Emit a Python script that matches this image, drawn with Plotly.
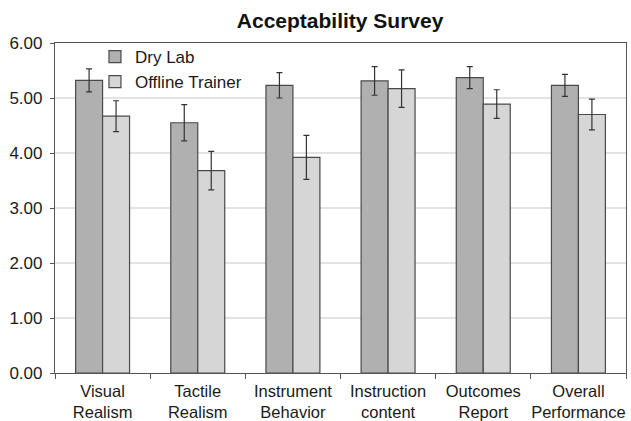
import plotly.graph_objects as go

categories = ["Visual<br>Realism", "Tactile<br>Realism", "Instrument<br>Behavior",
              "Instruction<br>content", "Outcomes<br>Report", "Overall<br>Performance"]
dry_lab = [5.32, 4.55, 5.23, 5.31, 5.37, 5.23]
dry_lab_err = [0.21, 0.33, 0.23, 0.26, 0.20, 0.20]
offline = [4.67, 3.68, 3.92, 5.17, 4.89, 4.70]
offline_err = [0.28, 0.35, 0.40, 0.34, 0.26, 0.28]

line_col = "#4a4a4a"
fig = go.Figure()
fig.add_trace(go.Bar(x=categories, y=dry_lab, name="Dry Lab",
                     marker=dict(color="#b0b0b0", line=dict(color=line_col, width=1.2)),
                     error_y=dict(type="data", array=dry_lab_err, color="#333333",
                                  thickness=1.2, width=3)))
fig.add_trace(go.Bar(x=categories, y=offline, name="Offline Trainer",
                     marker=dict(color="#d6d6d6", line=dict(color=line_col, width=1.2)),
                     error_y=dict(type="data", array=offline_err, color="#333333",
                                  thickness=1.2, width=3)))

fig.update_layout(
    width=631, height=421,
    margin=dict(l=55, r=5, t=43, b=48, autoexpand=False),
    paper_bgcolor="white", plot_bgcolor="white",
    barmode="group", bargap=0.433, bargroupgap=0,
    font=dict(family="Liberation Sans, Arial, sans-serif", size=17, color="#1a1a1a"),
    title=dict(text="<b>Acceptability Survey</b>", x=0.539, xanchor="center",
               y=0.952, yanchor="middle", font=dict(size=21, color="#111111")),
    legend=dict(x=0.07, y=1.012, xanchor="left", yanchor="top",
                bgcolor="rgba(0,0,0,0)", font=dict(size=17), tracegroupgap=2),
    showlegend=True,
)
fig.update_yaxes(range=[0, 6], dtick=1, tickformat=".2f", showgrid=True,
                 gridcolor="#e3e3e3", gridwidth=1.5, automargin=False,
                 showline=True, linecolor="#555555", linewidth=1.2, mirror=True,
                 ticks="outside", ticklen=4, tickcolor="#555555", zeroline=False,
                 ticklabelstandoff=4)
fig.update_xaxes(showline=True, linecolor="#555555", linewidth=1.2, mirror=True,
                 automargin=False, tickangle=0, tickfont=dict(size=16.5),
                 ticklabelstandoff=3,
                 ticks="outside", tickson="boundaries", ticklen=5, tickcolor="#555555")

fig.write_html("out.html", config={"displayModeBar": False},
               post_script="document.body.style.margin='0';")
